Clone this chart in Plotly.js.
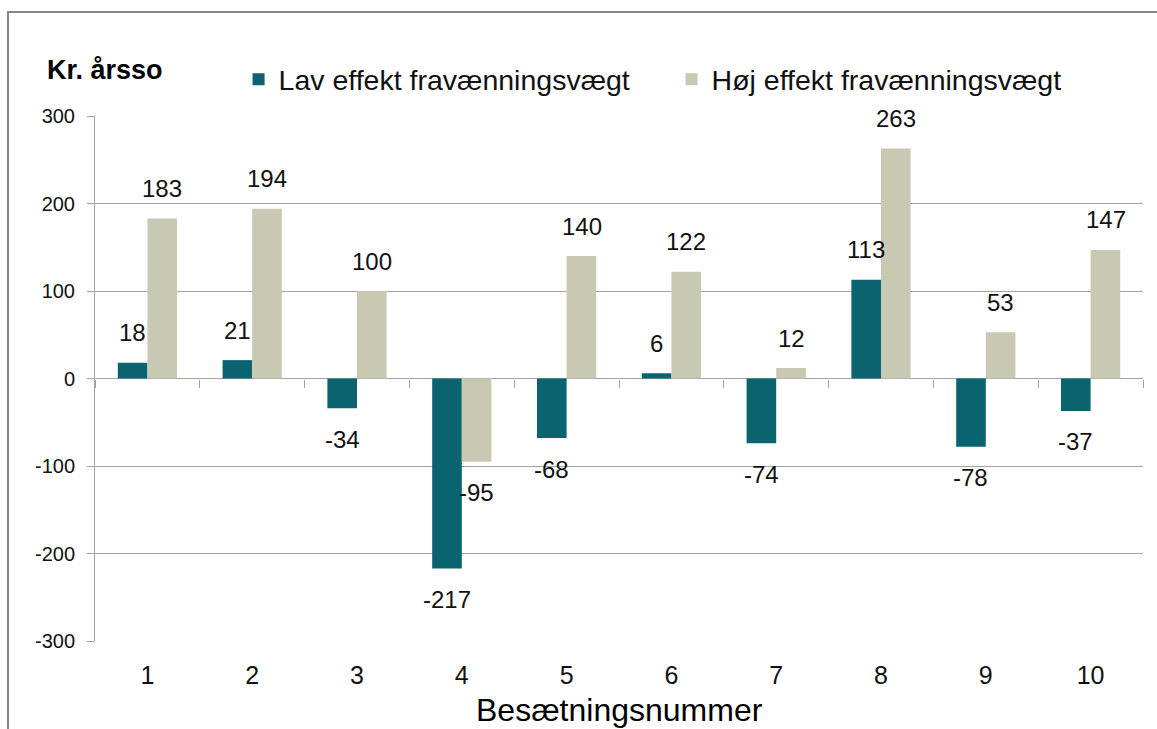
<!DOCTYPE html>
<html>
<head>
<meta charset="utf-8">
<script src="https://cdn.plot.ly/plotly-3.0.1.min.js"></script>
<style>
  html, body { margin: 0; padding: 0; background: #fff; overflow: hidden; }
  #chart { position: absolute; left: 0; top: 0; width: 1157px; height: 729px; }
  #frame { position: absolute; left: 7px; top: 11px; width: 1200px; height: 800px;
           border-left: 2px solid #878787; border-top: 2px solid #878787; pointer-events: none; }
</style>
</head>
<body>
<div id="chart"></div>
<div id="frame"></div>
<script>
// herd numbers and effect per cow-year (kr.)
const herds = ["1", "2", "3", "4", "5", "6", "7", "8", "9", "10"];
const lowEffect = [18, 21, -34, -217, -68, 6, -74, 113, -78, -37];
const highEffect = [183, 194, 100, -95, 140, 122, 12, 263, 53, 147];
const yTicks = [-300, -200, -100, 0, 100, 200, 300];

const font = "Liberation Sans, Arial, sans-serif";
const grid = "#a3a3a3";

const lowTrace = {
  type: "bar",
  name: "Lav effekt fravænningsvægt",
  x: herds,
  y: lowEffect,
  marker: { color: "#0a6470" },
  hoverinfo: "y",
};
const highTrace = {
  type: "bar",
  name: "Høj effekt fravænningsvægt",
  x: herds,
  y: highEffect,
  marker: { color: "#c9c8b3" },
  hoverinfo: "y",
};
// empty trace so the zero-line tick axis gets drawn
const tickTrace = {
  type: "scatter", mode: "markers", x: [], y: [],
  xaxis: "x2", yaxis: "y", showlegend: false, hoverinfo: "skip",
};

// value labels, placed at the bar ends (x is the category index)
function labels(values, dx) {
  return values.map((v, i) => ({
    x: i, y: v, xref: "x", yref: "y",
    text: String(v), showarrow: false,
    xshift: dx, yshift: v >= 0 ? 30 : -31,
    font: { family: font, size: 24, color: "#111" },
  }));
}

const layout = {
  width: 1157,
  height: 729,
  margin: { l: 95, r: 14, t: 116, b: 88 },
  paper_bgcolor: "#fff",
  plot_bgcolor: "#fff",
  barmode: "group",
  bargap: 0.435,
  bargroupgap: 0,
  showlegend: true,
  legend: {
    orientation: "h",
    x: 0.137, y: 1.069, xanchor: "left", yanchor: "middle",
    font: { family: font, size: 28.5, color: "#111" },
    entrywidth: 388,
    traceorder: "normal",
  },
  xaxis: {
    type: "category",
    range: [-0.5, 9.5],
    showline: false,
    showgrid: false,
    zeroline: false,
    ticks: "",
    tickfont: { family: font, size: 25, color: "#111" },
    ticklabelstandoff: 17,
    fixedrange: true,
  },
  // tick marks between herds on the zero line
  xaxis2: {
    overlaying: "x",
    anchor: "free",
    position: 0.5,
    type: "linear",
    range: [-0.5, 9.5],
    tick0: -0.5,
    dtick: 1,
    ticks: "outside",
    ticklen: 8,
    tickcolor: grid,
    showticklabels: false,
    showline: false,
    showgrid: false,
    zeroline: false,
    fixedrange: true,
  },
  yaxis: {
    range: [-300, 300],
    tickvals: yTicks,
    ticktext: yTicks.map(String),
    showgrid: true,
    gridcolor: grid,
    gridwidth: 1,
    zeroline: true,
    zerolinecolor: grid,
    zerolinewidth: 1,
    showline: true,
    linecolor: grid,
    ticks: "outside",
    ticklen: 7,
    tickcolor: grid,
    tickfont: { family: font, size: 20, color: "#111" },
    ticklabelstandoff: 8,
    fixedrange: true,
  },
  annotations: [
    {
      text: "<b>Kr. årsso</b>", xref: "paper", yref: "paper",
      x: -0.048, y: 1.087, xanchor: "left", yanchor: "middle", showarrow: false,
      font: { family: font, size: 27, color: "#000" },
    },
    {
      text: "Besætningsnummer", xref: "paper", yref: "paper",
      x: 0.5, y: -0.132, xanchor: "center", yanchor: "middle", showarrow: false,
      font: { family: font, size: 32, color: "#000" },
    },
    ...labels(lowEffect, -15),
    ...labels(highEffect, 15),
  ],
};

Plotly.newPlot("chart", [lowTrace, highTrace, tickTrace], layout, { displayModeBar: false, staticPlot: true });
</script>
</body>
</html>
